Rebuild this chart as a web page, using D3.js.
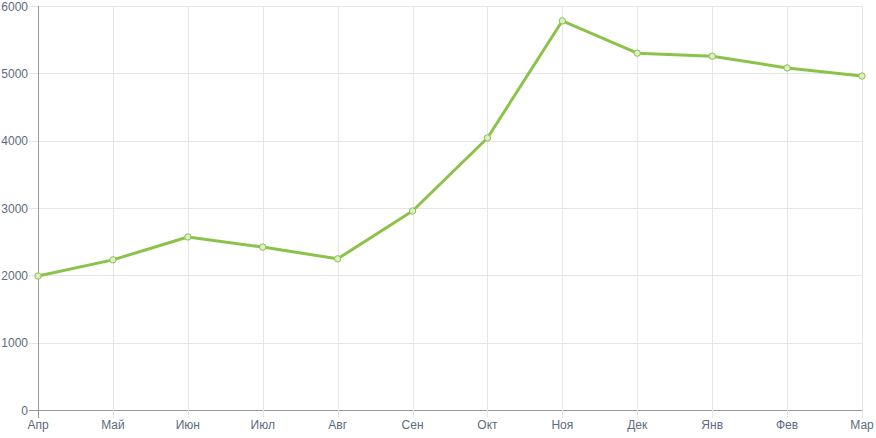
<!DOCTYPE html>
<html><head><meta charset="utf-8">
<script src="https://cdn.jsdelivr.net/npm/d3@7"></script>
<style>html,body{margin:0;padding:0;background:#fff;}svg{display:block;}</style>
</head><body>
<svg id="c" width="876" height="438"></svg>
<script>
const months = ["Апр","Май","Июн","Июл","Авг","Сен","Окт","Ноя","Дек","Янв","Фев","Мар"];
const values = [1990, 2230, 2570, 2420, 2245, 2955, 4040, 5780, 5300, 5255, 5080, 4960];
const yTicks = [0,1000,2000,3000,4000,5000,6000];

(function(){
const svg = d3.select("#c");
const pLeft = 38, pRight = 862, pTop = 6, pBottom = 410;
const x = d3.scalePoint().domain(months).range([pLeft, pRight]);
const y = d3.scaleLinear().domain([0, 6000]).range([pBottom, pTop]);
const textColor = "#5c6b82";
const font = "'Liberation Sans', Arial, sans-serif";

const g = svg.append("g");
g.selectAll(".hg").data(yTicks).enter().append("line")
  .attr("x1", pLeft - 9).attr("x2", pRight + 0.5)
  .attr("y1", d => Math.round(y(d)) + 0.5).attr("y2", d => Math.round(y(d)) + 0.5)
  .attr("stroke", d => d === 0 ? "#999" : "#e6e6e6").attr("stroke-width", 1);
g.selectAll(".vg").data(months).enter().append("line")
  .attr("x1", d => Math.round(x(d)) + 0.5).attr("x2", d => Math.round(x(d)) + 0.5)
  .attr("y1", pTop).attr("y2", pBottom + 8)
  .attr("stroke", (d,i) => i === 0 ? "#999" : "#e6e6e6").attr("stroke-width", 1);

svg.append("g").selectAll("text").data(yTicks).enter().append("text")
  .attr("x", 28).attr("y", d => y(d) + 4.5)
  .attr("text-anchor", "end").attr("font-family", font).attr("font-size", 12)
  .attr("fill", textColor).text(d => d);

svg.append("g").selectAll("text").data(months).enter().append("text")
  .attr("x", d => x(d)).attr("y", 429)
  .attr("text-anchor", "middle").attr("font-family", font).attr("font-size", 12)
  .attr("fill", textColor).text(d => d);

const line = d3.line().x((d,i) => x(months[i])).y(d => y(d));
svg.append("path").datum(values).attr("d", line)
  .attr("fill", "none").attr("stroke", "#8bc34a").attr("stroke-width", 3)
  .attr("stroke-linejoin", "round");

svg.append("g").selectAll("circle").data(values).enter().append("circle")
  .attr("cx", (d,i) => x(months[i])).attr("cy", d => y(d)).attr("r", 3.2)
  .attr("fill", "#dcedc8").attr("stroke", "#8bc34a").attr("stroke-width", 1);
})();
</script>
</body></html>
